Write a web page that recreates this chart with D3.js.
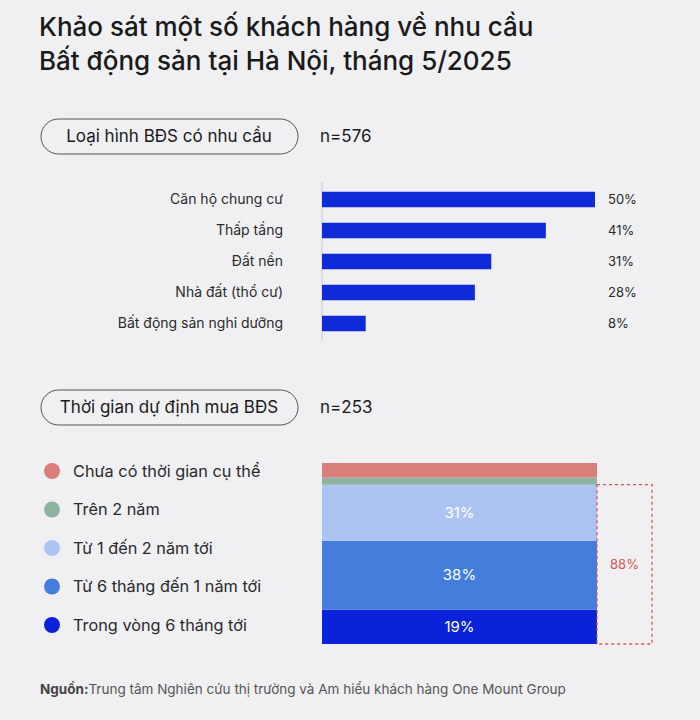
<!DOCTYPE html>
<html>
<head>
<meta charset="utf-8">
<script src="https://cdn.jsdelivr.net/npm/d3@7"></script>
<style>
  html, body { margin: 0; padding: 0; background: #f0f0f2; }
  svg { display: block; font-family: Inter, "Noto Sans", sans-serif; }
</style>
</head>
<body>
<svg id="chart" width="700" height="720"></svg>
<script>
// ---- Data ----
const titleLines = ["Khảo sát một số khách hàng về nhu cầu", "Bất động sản tại Hà Nội, tháng 5/2025"];
const section1Title = "Loại hình BĐS có nhu cầu";
const section1N = "n=576";
const typeCategories = ["Căn hộ chung cư", "Thấp tầng", "Đất nền", "Nhà đất (thổ cư)", "Bất động sản nghỉ dưỡng"];
const typeValues = [50, 41, 31, 28, 8];

const section2Title = "Thời gian dự định mua BĐS";
const section2N = "n=253";
const timeCategories = ["Chưa có thời gian cụ thể", "Trên 2 năm", "Từ 1 đến 2 năm tới", "Từ 6 tháng đến 1 năm tới", "Trong vòng 6 tháng tới"];
const timeValues = [8, 4, 31, 38, 19];
const timeShowLabel = [false, false, true, true, true];
const groupedLabel = "88%";
const groupedCount = 3; // bottom three segments

const sourceBold = "Nguồn:";
const sourceText = "Trung tâm Nghiên cứu thị trường và Am hiểu khách hàng One Mount Group";

const timeColors = ["#d97e7b", "#8db4a0", "#adc4f3", "#447ddb", "#0a23d8"];
const barColor = "#0f2bd8";

// ---- Drawing ----
const svg = d3.select("#chart");
svg.append("rect").attr("width", 700).attr("height", 720).attr("fill", "#f0f0f2");

// Title
svg.append("g").selectAll("text").data(titleLines).join("text")
  .attr("x", 39).attr("y", (d, i) => 36 + i * 34)
  .attr("font-size", 26).attr("font-weight", 500).attr("fill", "#1a1a1a")
  .text(d => d);

// Pill helper
function pill(y, label, n) {
  const g = svg.append("g");
  g.append("rect").attr("x", 41).attr("y", y).attr("width", 257).attr("height", 35)
    .attr("rx", 17.5).attr("fill", "none").attr("stroke", "#555").attr("stroke-width", 1);
  g.append("text").attr("x", 169).attr("y", y + 23).attr("text-anchor", "middle")
    .attr("font-size", 17).attr("fill", "#1a1a1a").text(label);
  g.append("text").attr("x", 320).attr("y", y + 23)
    .attr("font-size", 17).attr("fill", "#1a1a1a").text(n);
}
pill(119, section1Title, section1N);
pill(390, section2Title, section2N);

// Section 1: horizontal bars
const x = d3.scaleLinear().domain([0, 50]).range([322, 595]);
const y = d3.scaleBand().domain(typeCategories).range([184, 339]).paddingInner(0.5).paddingOuter(0.25);

svg.append("line").attr("x1", x(0)).attr("x2", x(0)).attr("y1", 182).attr("y2", 341)
  .attr("stroke", "#c8c8cc").attr("stroke-width", 1);

const bars = svg.append("g");
bars.selectAll("rect").data(typeCategories).join("rect")
  .attr("x", x(0)).attr("y", d => y(d))
  .attr("width", (d, i) => x(typeValues[i]) - x(0))
  .attr("height", y.bandwidth()).attr("fill", barColor);
bars.selectAll("text.cat").data(typeCategories).join("text").attr("class", "cat")
  .attr("x", 283).attr("y", d => y(d) + y.bandwidth() / 2).attr("dy", "0.35em")
  .attr("text-anchor", "end").attr("font-size", 14).attr("fill", "#2a2a2a").text(d => d);
bars.selectAll("text.val").data(typeCategories).join("text").attr("class", "val")
  .attr("x", 608).attr("y", d => y(d) + y.bandwidth() / 2).attr("dy", "0.35em")
  .attr("font-size", 13).attr("fill", "#2a2a2a").text((d, i) => typeValues[i] + "%");

// Section 2: stacked bar
const ys = d3.scaleLinear().domain([0, 100]).range([644, 463]);
const bx0 = 322, bx1 = 597;
// stack from bottom: reverse order
const order = d3.range(timeCategories.length).reverse();
let cum = 0;
const segs = order.map(i => { const s = { i, y0: cum, y1: cum + timeValues[i] }; cum += timeValues[i]; return s; });

const sg = svg.append("g");
sg.selectAll("rect").data(segs).join("rect")
  .attr("x", bx0).attr("width", bx1 - bx0)
  .attr("y", d => ys(d.y1)).attr("height", d => ys(d.y0) - ys(d.y1))
  .attr("fill", d => timeColors[d.i]);
sg.selectAll("text").data(segs.filter(d => timeShowLabel[d.i])).join("text")
  .attr("x", (bx0 + bx1) / 2).attr("y", d => (ys(d.y0) + ys(d.y1)) / 2).attr("dy", "0.35em")
  .attr("text-anchor", "middle").attr("font-size", 15).attr("fill", "#ffffff")
  .text(d => timeValues[d.i] + "%");

// Grouped dashed box
const groupTop = d3.sum(segs.slice(0, groupedCount), d => timeValues[d.i]);
svg.append("rect").attr("x", bx1).attr("y", ys(groupTop)).attr("width", 55)
  .attr("height", ys(0) - ys(groupTop)).attr("fill", "none")
  .attr("stroke", "#d9554f").attr("stroke-width", 1.3).attr("stroke-dasharray", "3,3");
svg.append("text").attr("x", bx1 + 27.5).attr("y", (ys(0) + ys(groupTop)) / 2).attr("dy", "0.35em")
  .attr("text-anchor", "middle").attr("font-size", 13).attr("fill", "#d9554f").text(groupedLabel);

// Legend
const lg = svg.append("g");
const legendY = d3.scalePoint().domain(timeCategories).range([471, 625]);
lg.selectAll("circle").data(timeCategories).join("circle")
  .attr("cx", 52).attr("cy", d => legendY(d)).attr("r", 8)
  .attr("fill", (d, i) => timeColors[i]);
lg.selectAll("text").data(timeCategories).join("text")
  .attr("x", 73).attr("y", d => legendY(d)).attr("dy", "0.35em")
  .attr("font-size", 16.3).attr("fill", "#2a2a2a").text(d => d);

// Source
const src = svg.append("text").attr("x", 40).attr("y", 694).attr("font-size", 13.5).attr("fill", "#555");
src.append("tspan").attr("font-weight", 700).attr("fill", "#444").text(sourceBold);
src.append("tspan").text(sourceText);
</script>
</body>
</html>
